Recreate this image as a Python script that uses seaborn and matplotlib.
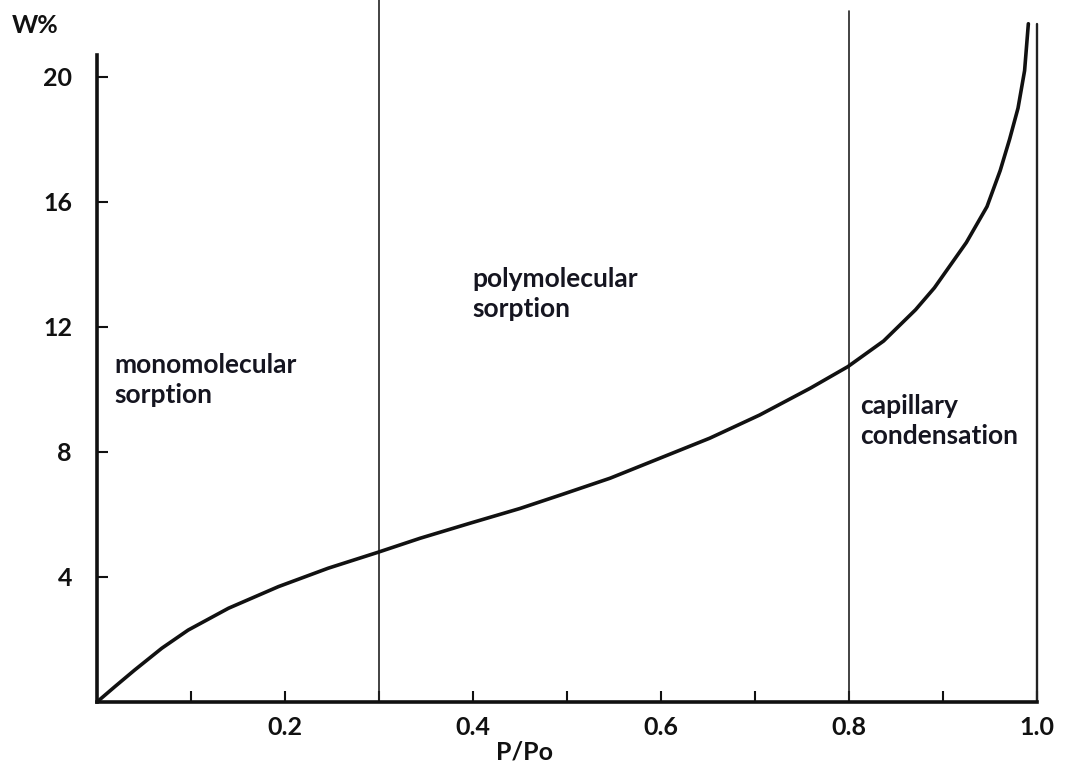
import matplotlib
matplotlib.use("Agg")
import matplotlib.pyplot as plt
import seaborn as sns
import pandas as pd
from matplotlib.ticker import FixedLocator

# ---- data ----
p_po = [0.0, 0.019, 0.040, 0.069, 0.097, 0.140, 0.193, 0.246, 0.298, 0.344,
        0.397, 0.450, 0.493, 0.546, 0.599, 0.652, 0.705, 0.759, 0.799, 0.837,
        0.871, 0.891, 0.925, 0.947, 0.961, 0.971, 0.980, 0.987, 0.991]
w_pct = [0.0, 0.49, 1.02, 1.72, 2.30, 3.0, 3.69, 4.28, 4.78, 5.24,
         5.72, 6.19, 6.62, 7.16, 7.80, 8.44, 9.18, 10.04, 10.73, 11.55,
         12.55, 13.25, 14.7, 15.85, 17.0, 18.0, 19.0, 20.2, 21.7]

boundaries = [0.3, 0.8, 1.0]
boundary_tops = [22.46, 22.1, 21.7]

region_labels = ["monomolecular\nsorption", "polymolecular\nsorption", "capillary\ncondensation"]
region_x = [0.019, 0.399, 0.812]
region_y = [10.3, 13.06, 9.0]

x_major = [0.2, 0.4, 0.6, 0.8, 1.0]
x_major_labels = ["0.2", "0.4", "0.6", "0.8", "1.0"]
x_minor = [0.1, 0.3, 0.5, 0.7, 0.9]
y_major = [4, 8, 12, 16, 20]
y_major_labels = ["4", "8", "12", "16", "20"]

df = pd.DataFrame({"P/Po": p_po, "W%": w_pct})

sns.set_theme(style="white")
plt.rcParams["font.family"] = ["Lato", "DejaVu Sans"]
plt.rcParams["font.weight"] = "bold"

ink = "#111111"
fig = plt.figure(figsize=(10.68, 7.72), dpi=100)
ax = fig.add_axes([0.0908, 0.0907, 0.9064, 0.9093])

sns.lineplot(data=df, x="P/Po", y="W%", ax=ax, color=ink, linewidth=2.6, sort=False)

for xb, top in zip(boundaries, boundary_tops):
    lw = 1.7 if xb == 1.0 else 1.2
    ax.plot([xb, xb], [0, top], color="#222222", linewidth=lw, zorder=1)

for txt, tx, ty in zip(region_labels, region_x, region_y):
    ax.text(tx, ty, txt, ha="left", va="center", fontsize=19, fontweight="bold",
            color="#151520", linespacing=1.3)

ax.set_xlim(0, 1.03)
ax.set_ylim(0, 22.46)

for s in ["top", "right"]:
    ax.spines[s].set_visible(False)
ax.spines["left"].set_bounds(0, 20.7)
ax.spines["bottom"].set_bounds(0, 1.0)
for s in ["left", "bottom"]:
    ax.spines[s].set_color(ink)
    ax.spines[s].set_linewidth(2.6)

ax.xaxis.set_major_locator(FixedLocator(x_major))
ax.set_xticklabels(x_major_labels)
ax.xaxis.set_minor_locator(FixedLocator(x_minor))
ax.yaxis.set_major_locator(FixedLocator(y_major))
ax.set_yticklabels(y_major_labels)

ax.tick_params(axis="x", which="both", direction="in", length=8, width=1.5,
               color=ink, bottom=True, pad=10, labelsize=18, labelcolor=ink)
ax.tick_params(axis="y", which="both", direction="in", length=8, width=1.5,
               color=ink, left=True, pad=18, labelsize=18, labelcolor=ink)
for lab in ax.get_xticklabels() + ax.get_yticklabels():
    lab.set_fontweight("bold")

ax.set_xlabel("P/Po", fontsize=18, fontweight="bold", color=ink)
ax.xaxis.set_label_coords(0.442, -0.055)
ax.set_ylabel("W%", fontsize=18, fontweight="bold", color=ink, rotation=0,
              ha="center", va="center")
ax.yaxis.set_label_coords(-0.064, 0.964)

fig.savefig("out.png", dpi=100)
